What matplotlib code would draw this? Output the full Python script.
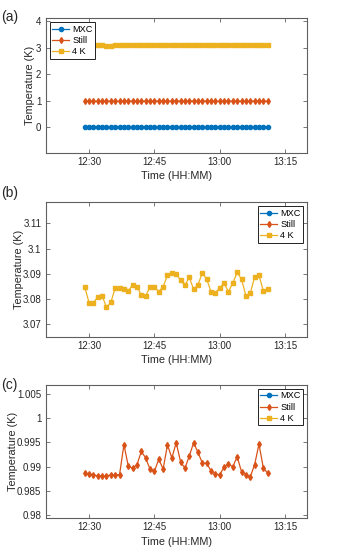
"""
Fridge temperature log: MXC / Still / 4 K stages, full view plus zoom on 4 K and Still.
"""

from datetime import datetime, timedelta

import matplotlib
matplotlib.use("Agg")
import matplotlib.pyplot as plt
import matplotlib.dates as mdates
from matplotlib.ticker import FuncFormatter

plt.rcParams["font.family"] = ["Liberation Sans", "DejaVu Sans"]

# ------------------------------------------------------------------
# data (one sample per minute, 12:29 -> 13:11)
# ------------------------------------------------------------------
START = datetime(2020, 1, 1, 12, 29)
N_SAMPLES = 43

four_k_temp = [
    3.0849, 3.0785, 3.0785, 3.0809, 3.0813, 3.0767, 3.0787, 3.0844, 3.0845, 3.0841,
    3.0832, 3.0856, 3.0849, 3.0816, 3.0812, 3.0849, 3.0849, 3.0829, 3.0849, 3.0894,
    3.0905, 3.0898, 3.0875, 3.0854, 3.0887, 3.0838, 3.0857, 3.0903, 3.0879, 3.0828,
    3.0825, 3.0845, 3.0862, 3.0829, 3.0864, 3.0906, 3.0878, 3.0813, 3.0823, 3.0887,
    3.0894, 3.0833, 3.0841,
]
still_temp = [
    0.98863, 0.98850, 0.98829, 0.98809, 0.98809, 0.98809, 0.98829, 0.98829, 0.98836, 0.99451,
    0.99014, 0.98966, 0.99041, 0.99314, 0.99178, 0.98945, 0.98904, 0.99150, 0.98952, 0.99451,
    0.99178, 0.99492, 0.99102, 0.98966, 0.99219, 0.99492, 0.99294, 0.99075, 0.99068, 0.98911,
    0.98843, 0.98836, 0.98993, 0.99048, 0.99000, 0.99205, 0.98891, 0.98829, 0.98788, 0.99041,
    0.99464, 0.98973, 0.98863,
]
# MXC sits at ~0 K on the scale of panel (a)
mxc_temp = [0.01] * N_SAMPLES

series_names = ["MXC", "Still", "4 K"]
xtick_labels = ["12:30", "12:45", "13:00", "13:15"]

times = [START + timedelta(minutes=i) for i in range(N_SAMPLES)]

# matlab default colour order
COLORS = ["#0072BD", "#D95319", "#EDB120"]
MARKERS = ["o", "d", "s"]
AX_COLOR = "#262626"
SPINE_COLOR = "#5f5f5f"

# axes boxes in pixels (left, top, right, bottom) on a 339x550 canvas
W, H = 339, 550
BOXES = [(45.5, 18.3, 306.9, 152.8),
         (45.5, 202.3, 306.9, 336.7),
         (45.5, 385.0, 306.9, 518.3)]
PANEL_LABEL_Y = [16.7, 193.5, 385.0]


def make_axes(fig, box):
    l, t, r, b = box
    return fig.add_axes([l / W, 1 - b / H, (r - l) / W, (b - t) / H])


def style_axes(ax, ylabelpad):
    for s in ax.spines.values():
        s.set_color(SPINE_COLOR)
        s.set_linewidth(0.8)
    ax.tick_params(direction="in", length=3, width=0.6, color=SPINE_COLOR,
                   labelcolor=AX_COLOR, labelsize=7, top=True, right=True, pad=3)
    t0 = START.replace(minute=0)
    ax.set_xlim(t0 + timedelta(minutes=20), t0 + timedelta(minutes=80))
    ticks = [datetime.strptime(f"2020-01-01 {s}", "%Y-%m-%d %H:%M") for s in xtick_labels]
    ax.set_xticks(ticks)
    ax.xaxis.set_major_formatter(mdates.DateFormatter("%H:%M"))
    ax.set_xlabel("Time (HH:MM)", fontsize=7.8, color=AX_COLOR, labelpad=3)
    ax.set_ylabel("Temperature (K)", fontsize=7.8, color=AX_COLOR, labelpad=ylabelpad)


def plot_all(ax):
    for y, name, c, m in zip([mxc_temp, still_temp, four_k_temp], series_names, COLORS, MARKERS):
        ax.plot(times, y, color=c, marker=m, markersize=3.0, linewidth=0.9, label=name)


def add_legend(ax, loc):
    ax.legend(loc=loc, fontsize=6.6, frameon=True, fancybox=False, framealpha=1,
              edgecolor="#222222", handlelength=1.9, handletextpad=0.3,
              borderpad=0.25, labelspacing=0.25, borderaxespad=0.45)
    ax.get_legend().get_frame().set_linewidth(0.7)


fig = plt.figure(figsize=(W / 100, H / 100), dpi=100)

# (a) all three stages
ax_a = make_axes(fig, BOXES[0])
plot_all(ax_a)
style_axes(ax_a, ylabelpad=0.5)
ax_a.set_ylim(-0.95, 4.1)
ax_a.set_yticks([0, 1, 2, 3, 4])
add_legend(ax_a, "upper left")

# (b) zoom on 4 K
ax_b = make_axes(fig, BOXES[1])
plot_all(ax_b)
style_axes(ax_b, ylabelpad=-1)
ax_b.set_ylim(3.0651, 3.1183)
ax_b.set_yticks([3.07, 3.08, 3.09, 3.10, 3.11])
ax_b.yaxis.set_major_formatter(FuncFormatter(lambda v, p: f"{round(v, 4):g}"))
add_legend(ax_b, "upper right")

# (c) zoom on Still
ax_c = make_axes(fig, BOXES[2])
plot_all(ax_c)
style_axes(ax_c, ylabelpad=-1)
ax_c.set_ylim(0.97932, 1.00686)
ax_c.set_yticks([0.98, 0.985, 0.99, 0.995, 1.0, 1.005])
ax_c.yaxis.set_major_formatter(FuncFormatter(lambda v, p: f"{round(v, 4):g}"))
add_legend(ax_c, "upper right")

for label, y in zip(["(a)", "(b)", "(c)"], PANEL_LABEL_Y):
    fig.text(1.5 / W, 1 - y / H, label, fontsize=10, color=AX_COLOR,
             ha="left", va="center")

fig.savefig("out.png", dpi=100)
